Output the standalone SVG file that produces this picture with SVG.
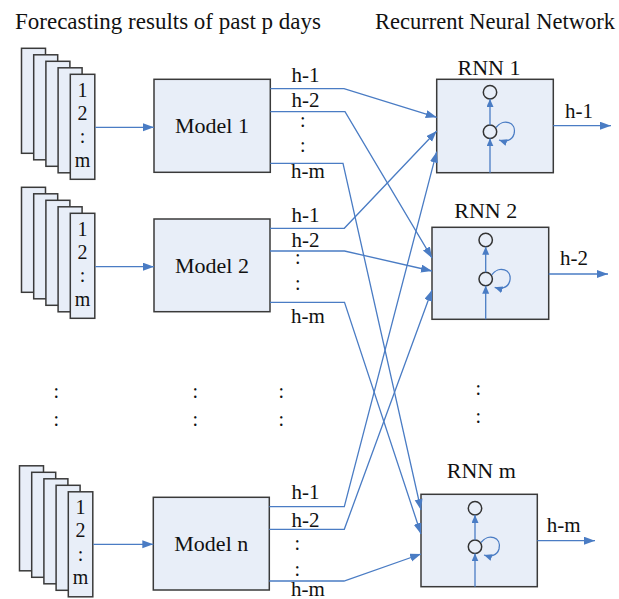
<svg xmlns="http://www.w3.org/2000/svg" width="619" height="599" viewBox="0 0 619 599">
<defs>
<style>
.bg{fill:#ffffff}
.box{fill:#E8EEF8;stroke:#3a3a3a;stroke-width:1.5}
.t{font-family:"Liberation Serif","Times New Roman",serif;fill:#111}
.title{font-size:23px}
.big{font-size:22px;text-anchor:middle}
.lbl{font-size:21px}
.num{font-size:20px;text-anchor:middle}
.dot{font-size:20px}
.ln{fill:none;stroke:#4A7CC4;stroke-width:1.3}
.cir{fill:#E8EEF8;stroke:#333;stroke-width:1.5}
</style>
<marker id="ah" markerUnits="userSpaceOnUse" markerWidth="12" markerHeight="9" refX="11" refY="4" orient="auto">
<path d="M0,0 L11,4 L0,8 Z" fill="#4A7CC4"/>
</marker>
<marker id="as" markerUnits="userSpaceOnUse" markerWidth="9" markerHeight="8" refX="8" refY="3.5" orient="auto">
<path d="M0,0 L8,3.5 L0,7 Z" fill="#4A7CC4"/>
</marker>
<g id="paperstack">
<rect class="box" x="0" y="0" width="24" height="105"/>
<rect class="box" x="12.2" y="6.5" width="24" height="105"/>
<rect class="box" x="24.4" y="13" width="24" height="105"/>
<rect class="box" x="36.6" y="19.5" width="24" height="105"/>
<rect class="box" x="48.8" y="26" width="24.5" height="105"/>
<text class="t num" x="61" y="48.4">1</text>
<text class="t num" x="61" y="71.7">2</text>
<text class="t num" x="61" y="95.2">:</text>
<text class="t num" x="61" y="118.7">m</text>
</g>
</defs>
<rect class="bg" x="0" y="0" width="619" height="599"/>

<g id="titles">
<text class="t title" x="15" y="29" textLength="306" lengthAdjust="spacingAndGlyphs">Forecasting results of past p days</text>
<text class="t title" x="375" y="29" textLength="240" lengthAdjust="spacingAndGlyphs">Recurrent Neural Network</text>
</g>

<g id="stack1"><use href="#paperstack" x="21.5" y="48.3"/></g>
<g id="stack2"><use href="#paperstack" x="21.5" y="187.3"/></g>
<g id="stackn"><use href="#paperstack" x="19.5" y="465.8"/></g>

<g id="model1">
<rect class="box" x="154" y="79.3" width="116.3" height="93"/>
<text class="t big" x="212" y="133.3">Model 1</text>
</g>
<g id="model2">
<rect class="box" x="154" y="219" width="116" height="92.7"/>
<text class="t big" x="212" y="273">Model 2</text>
</g>
<g id="modeln">
<rect class="box" x="153.3" y="497.3" width="116" height="92.7"/>
<text class="t big" x="211.3" y="550.5">Model n</text>
</g>

<g id="rnn1">
<text class="t big" x="489" y="75">RNN 1</text>
<rect class="box" x="436.7" y="79.3" width="116.6" height="93.4"/>
<circle class="cir" cx="490" cy="92.3" r="6.7"/>
<circle class="cir" cx="490" cy="131.7" r="6.7"/>
</g>
<g id="rnn2">
<text class="t big" x="485.7" y="217.5">RNN 2</text>
<rect class="box" x="432" y="227.3" width="116.7" height="92"/>
<circle class="cir" cx="485.7" cy="240" r="6.7"/>
<circle class="cir" cx="485.7" cy="279" r="6.7"/>
</g>
<g id="rnnm">
<text class="t big" x="481.3" y="478">RNN m</text>
<rect class="box" x="421" y="494.3" width="116.3" height="92.4"/>
<circle class="cir" cx="475" cy="508.3" r="6.7"/>
<circle class="cir" cx="475" cy="546.7" r="6.7"/>
</g>

<g id="labels">
<text class="t lbl" x="291.5" y="81.7">h-1</text>
<text class="t lbl" x="291.5" y="106.7">h-2</text>
<text class="t dot" x="300" y="127">:</text>
<text class="t dot" x="300" y="152">:</text>
<text class="t lbl" x="291" y="178">h-m</text>

<text class="t lbl" x="291.5" y="221.7">h-1</text>
<text class="t lbl" x="291.5" y="246.7">h-2</text>
<text class="t dot" x="295" y="264">:</text>
<text class="t dot" x="295" y="290">:</text>
<text class="t lbl" x="291" y="323.3">h-m</text>

<text class="t lbl" x="291.5" y="499">h-1</text>
<text class="t lbl" x="291.5" y="526.5">h-2</text>
<text class="t dot" x="294.5" y="550">:</text>
<text class="t dot" x="294.5" y="576">:</text>
<text class="t lbl" x="291" y="596">h-m</text>

<text class="t lbl" x="565" y="118.3">h-1</text>
<text class="t lbl" x="560" y="265">h-2</text>
<text class="t lbl" x="546.7" y="531.7">h-m</text>

<text class="t dot" x="53.5" y="397.5">:</text>
<text class="t dot" x="53.5" y="425.5">:</text>
<text class="t dot" x="192.5" y="397.5">:</text>
<text class="t dot" x="192.5" y="425.5">:</text>
<text class="t dot" x="278.5" y="397.5">:</text>
<text class="t dot" x="278.5" y="425.5">:</text>
<text class="t dot" x="475.5" y="395">:</text>
<text class="t dot" x="475.5" y="422.5">:</text>
</g>

<g id="connectors">
<path class="ln" marker-end="url(#ah)" d="M95.3,127.3 H154"/>
<path class="ln" marker-end="url(#ah)" d="M95.3,266.7 H154"/>
<path class="ln" marker-end="url(#ah)" d="M93.3,544.3 H153.3"/>

<path class="ln" marker-end="url(#ah)" d="M270.3,88.7 H344 L436.7,117.3"/>
<path class="ln" marker-end="url(#ah)" d="M270.3,111.7 H345 L432,258"/>
<path class="ln" marker-end="url(#ah)" d="M270.3,163.3 H343 L421,510"/>

<path class="ln" marker-end="url(#ah)" d="M270,228.3 H344.3 L436.7,131"/>
<path class="ln" marker-end="url(#ah)" d="M270,251 H344.5 L432,271"/>
<path class="ln" marker-end="url(#ah)" d="M270,302.3 H344.5 L421,534"/>

<path class="ln" marker-end="url(#ah)" d="M269.3,506.7 H344.3 L436.7,151.7"/>
<path class="ln" marker-end="url(#ah)" d="M269.3,529.3 H344.3 L432,290"/>
<path class="ln" marker-end="url(#ah)" d="M269.3,581 H344 L421,554"/>

<path class="ln" marker-end="url(#ah)" d="M553.3,125.7 H611"/>
<path class="ln" marker-end="url(#ah)" d="M548.7,274 H608"/>
<path class="ln" marker-end="url(#ah)" d="M537.3,540.7 H595"/>

<path class="ln" marker-end="url(#as)" d="M490,172.7 V138.4"/>
<path class="ln" marker-end="url(#as)" d="M490,125 V99"/>
<path class="ln" marker-end="url(#as)" d="M496,127.5 C503,118 517,122 514,134 C512,141 505,142 499,140"/>

<path class="ln" marker-end="url(#as)" d="M485.7,319.3 V285.7"/>
<path class="ln" marker-end="url(#as)" d="M485.7,272.3 V246.7"/>
<path class="ln" marker-end="url(#as)" d="M491.7,274.8 C498.7,265.3 512.7,269.3 509.7,281.3 C507.7,288.3 500.7,289.3 494.7,287.3"/>

<path class="ln" marker-end="url(#as)" d="M475,586.7 V553.4"/>
<path class="ln" marker-end="url(#as)" d="M475,540 V515"/>
<path class="ln" marker-end="url(#as)" d="M481,542.5 C488,533 502,537 499,549 C497,556 490,557 484,555"/>
</g>
</svg>
